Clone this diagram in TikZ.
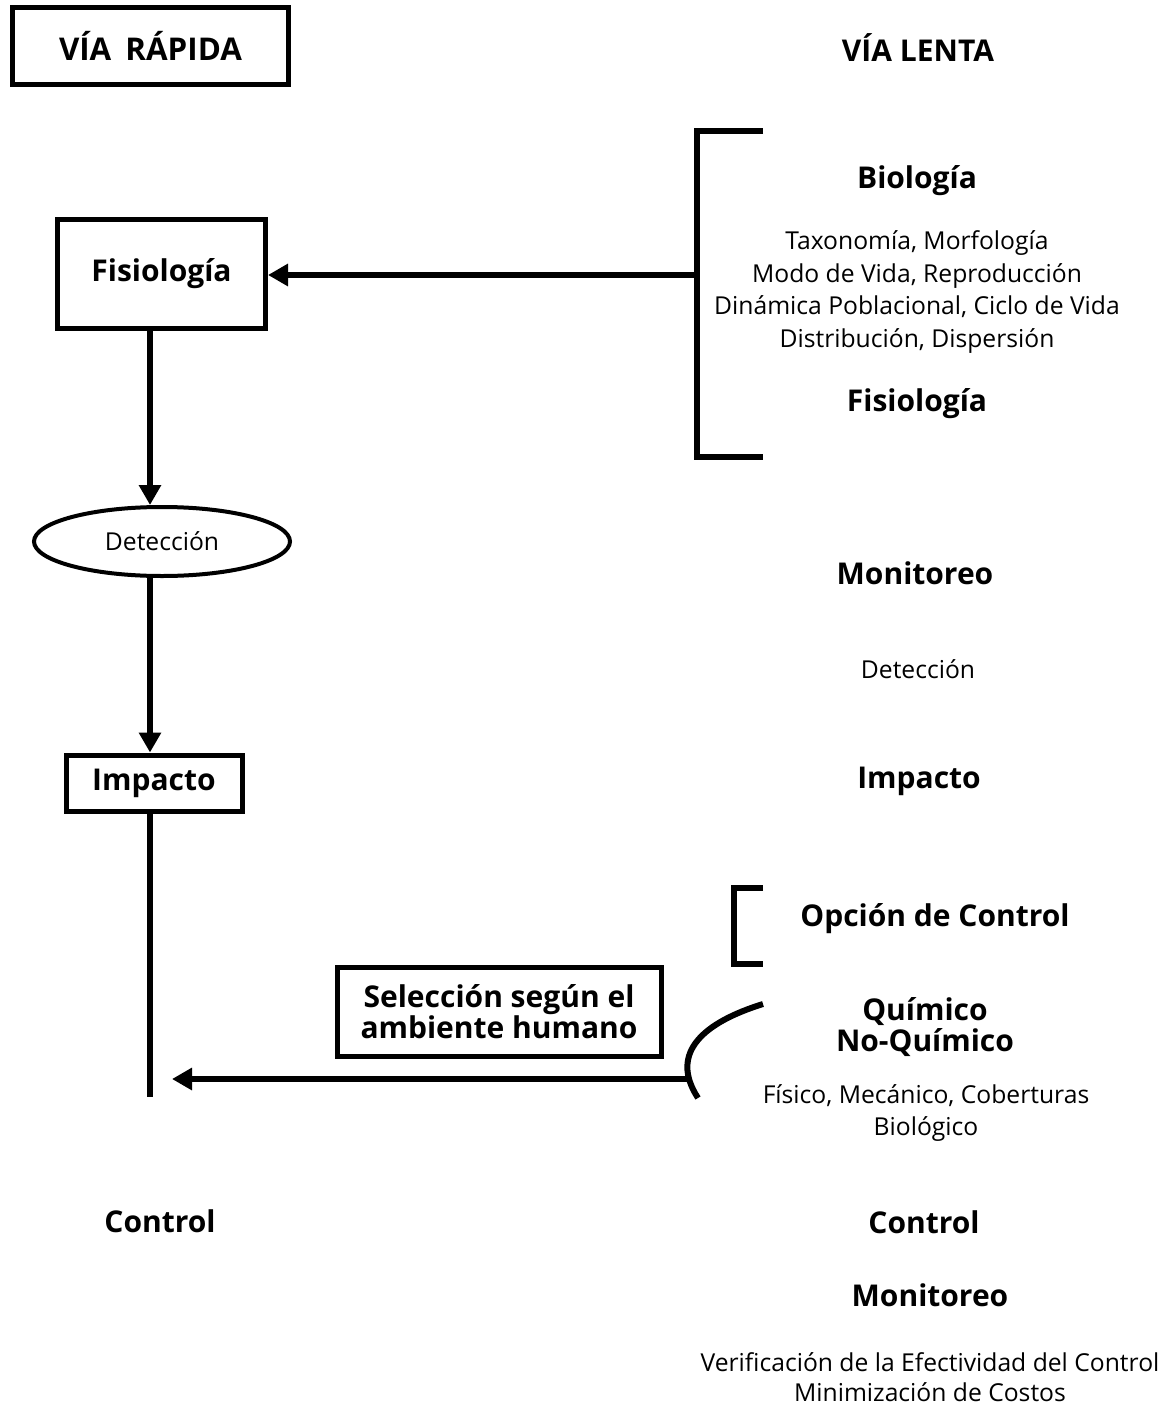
\documentclass[tikz,border=0pt]{standalone}
\usepackage{fontspec}
\setmainfont{Open Sans}
\usetikzlibrary{arrows.meta,shapes.geometric}
\begin{document}
\begin{tikzpicture}[x=0.75pt,y=-0.75pt,
  big/.style={font=\bfseries\fontsize{22.5}{23}\selectfont},
  small/.style={font=\fontsize{18.5}{24.4}\selectfont},
  framed/.style={draw,line width=3.75pt,inner sep=0pt,align=center},
  conn/.style={line width=5pt},
  arr/.style={conn,-{Triangle[width=16pt,length=15pt]}},
  brk/.style={line width=4.5pt}]
\useasboundingbox (0,0) rectangle (1168,1405);
% left column
\node[framed,font=\bfseries\fontsize{23.5}{24}\selectfont,minimum width=207pt,minimum height=57.75pt] (rapida) at (150.5,46) {VÍA\hspace{0.45em}RÁPIDA};
\node[framed,big,minimum width=156pt,minimum height=81pt] (fis) at (161.5,274) {Fisiología};
\node[draw,ellipse,line width=3pt,inner sep=0pt,minimum width=192pt,minimum height=51.75pt,small] (det) at (162,541.5) {Detección};
\node[framed,big,minimum width=132pt,minimum height=42pt] (imp) at (154,783) {Impacto};
\node[framed,big,minimum width=243pt,minimum height=66.75pt] (sel) at (499,1011.5) {Selección según el\\ambiente humano};
\node[big] (ctrlL) at (160,1221) {Control};
\coordinate (lineend) at (150,1097);
\coordinate (arrtip) at (172,1079);
% right column
\node[big] (lenta) at (918,48) {VÍA LENTA};
\node[big] (bio) at (917,181) {Biología};
\node[small,align=center] (biolist) at (917,292) {Taxonomía, Morfología\\Modo de Vida, Reproducción\\Dinámica Poblacional, Ciclo de Vida\\Distribución, Dispersión};
\node[big] (fisR) at (917,404) {Fisiología};
\node[big] (mon1) at (915,573) {Monitoreo};
\node[small] (detR) at (918,669) {Detección};
\node[big] (impR) at (919,781) {Impacto};
\node[big] (opc) at (935,919) {Opción de Control};
\node[big,align=center] (quim) at (925,1027) {Químico\\No-Químico};
\node[small,align=center] (fisico) at (926,1113) {Físico, Mecánico, Coberturas\\Biológico};
\node[big] (ctrlR) at (924,1222) {Control};
\node[big] (mon2) at (930,1295) {Monitoreo};
\node[font=\fontsize{18.5}{22.5}\selectfont,align=center,inner sep=0pt,anchor=base] (verif) at (930,1401) {Verificación de la Efectividad del Control\\Minimización de Costos};
% big bracket
\coordinate (b1) at (763,131);
\coordinate (b2) at (697,131);
\coordinate (b3) at (697,457);
\coordinate (b4) at (763,457);
\coordinate (bmid) at (697,275);
\draw[brk] (b1) -- (b2) -- (b3) -- (b4);
% small bracket
\coordinate (s1) at (763,888);
\coordinate (s2) at (734,888);
\coordinate (s3) at (734,964);
\coordinate (s4) at (763,964);
\draw[brk] (s1) -- (s2) -- (s3) -- (s4);
% curve
\coordinate (c1) at (763,1004);
\coordinate (c2) at (698,1098);
\draw[line width=4.5pt] (c1) .. controls (705,1022) and (668,1052) .. (c2);
% connectors
\draw[arr] (bmid) -- (fis.east |- bmid);
\draw[arr] (fis.south -| 150,0) -- (det.north -| 150,0);
\draw[arr] (det.south -| 150,0) -- (imp.north -| 150,0);
\draw[conn] (imp.south -| 150,0) -- (lineend);
\coordinate (harr) at (687,1079);
\draw[arr] (harr) -- (arrtip);
\end{tikzpicture}
\end{document}
